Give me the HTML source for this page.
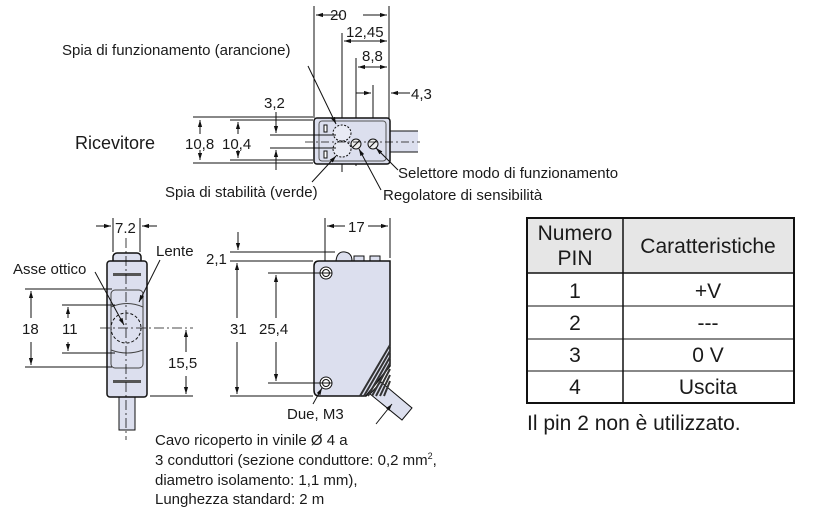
<!DOCTYPE html>
<html><head><meta charset="utf-8"><style>
body{margin:0;background:#fff}
svg{display:block}
text{font-family:"Liberation Sans",Arial,sans-serif;fill:#1a1a1a}
</style></head><body>
<svg width="825" height="524" viewBox="0 0 825 524" xmlns="http://www.w3.org/2000/svg">
<defs>
<marker id="a" viewBox="0 0 10 10" refX="10" refY="5" markerWidth="7" markerHeight="7" orient="auto-start-reverse"><path d="M0,2 L10,5 L0,8z" fill="#111"/></marker>
</defs>
<g stroke="#111" stroke-width="1" fill="none">
<!-- TOP VIEW -->
<line x1="314" y1="6" x2="314" y2="118"/><line x1="389" y1="6" x2="389" y2="118"/>
<line x1="316" y1="15" x2="341" y2="15" marker-start="url(#a)"/><line x1="363" y1="15" x2="387" y2="15" marker-end="url(#a)"/>
<line x1="342" y1="33" x2="342" y2="172"/>
<line x1="344" y1="41" x2="387" y2="41" marker-start="url(#a)" marker-end="url(#a)"/>
<line x1="356" y1="58" x2="356" y2="166"/>
<line x1="358" y1="67" x2="387" y2="67" marker-start="url(#a)" marker-end="url(#a)"/>
<line x1="373" y1="85" x2="373" y2="148"/>
<line x1="356" y1="93" x2="371" y2="93" marker-end="url(#a)"/>
<line x1="410" y1="93" x2="391" y2="93" marker-end="url(#a)"/>
<rect x="390" y="131" width="28" height="21" fill="#dcdfee" stroke="none"/>
<line x1="390" y1="131" x2="418" y2="131"/><line x1="390" y1="152" x2="418" y2="152"/>
<rect x="314" y="118" width="76" height="46" rx="3" fill="#dcdfee" stroke-width="1.5"/>
<rect x="319" y="121" width="67" height="40" rx="3" stroke="#555"/>
<rect x="324" y="125" width="3" height="7" fill="#fff"/><rect x="324" y="151" width="3" height="7" fill="#fff"/>
<ellipse cx="342" cy="133" rx="9" ry="8" fill="#e8eaf4" stroke-dasharray="2,1.5"/>
<ellipse cx="342" cy="149" rx="9" ry="8" fill="#e8eaf4" stroke-dasharray="2,1.5"/>
<circle cx="356" cy="144" r="5" fill="#eee"/><line x1="353" y1="147" x2="359" y2="141"/>
<circle cx="373" cy="144" r="5" fill="#eee"/><line x1="370" y1="147" x2="376" y2="141"/>
<line x1="305" y1="142" x2="420" y2="142" stroke-dasharray="8,3,2,3" stroke-width=".8"/>
<line x1="193" y1="117" x2="313" y2="117"/><line x1="193" y1="163" x2="313" y2="163"/>
<line x1="230" y1="120" x2="313" y2="120"/><line x1="230" y1="160" x2="313" y2="160"/>
<line x1="270" y1="135" x2="336" y2="135"/><line x1="270" y1="148" x2="336" y2="148"/>
<line x1="200" y1="120" x2="200" y2="134" marker-start="url(#a)"/><line x1="200" y1="150" x2="200" y2="160" marker-end="url(#a)"/>
<line x1="238" y1="122" x2="238" y2="134" marker-start="url(#a)"/><line x1="238" y1="150" x2="238" y2="158" marker-end="url(#a)"/>
<line x1="276" y1="112" x2="276" y2="133" marker-end="url(#a)"/><line x1="276" y1="170" x2="276" y2="150" marker-end="url(#a)"/>
<line x1="308" y1="66" x2="336" y2="124" marker-end="url(#a)"/>
<line x1="312" y1="182" x2="336" y2="156" marker-end="url(#a)"/>
<line x1="398" y1="170" x2="376" y2="148" marker-end="url(#a)"/>
<line x1="381" y1="190" x2="359" y2="149" marker-end="url(#a)"/>
<!-- SIDE VIEW -->
<line x1="113" y1="218" x2="113" y2="252"/><line x1="140" y1="218" x2="140" y2="252"/>
<line x1="96" y1="226" x2="111" y2="226" marker-end="url(#a)"/><line x1="157" y1="226" x2="142" y2="226" marker-end="url(#a)"/>
<rect x="119" y="397" width="16" height="33" fill="#dcdfee"/>
<rect x="113" y="253" width="28" height="14" rx="4" fill="#dcdfee" stroke-width="1.5"/>
<rect x="107" y="261" width="40" height="136" rx="3" fill="#dcdfee" stroke-width="1.5"/>
<rect x="111" y="290" width="32" height="78" rx="4" stroke="#444"/>
<path d="M111,307 Q127,300 143,307 M111,350 Q127,356 143,350" stroke="#444"/>
<circle cx="126" cy="328" r="15" stroke-dasharray="3,2"/>
<rect x="113" y="273" width="28" height="3" fill="#555" stroke="none"/><rect x="113" y="380" width="28" height="3" fill="#555" stroke="none"/>
<line x1="126" y1="238" x2="126" y2="440" stroke-dasharray="10,3,2,3" stroke-width=".8"/>
<line x1="100" y1="328" x2="193" y2="328" stroke-dasharray="10,3,2,3" stroke-width=".8"/>
<line x1="25" y1="289" x2="112" y2="289"/><line x1="25" y1="367" x2="112" y2="367"/>
<line x1="62" y1="305" x2="115" y2="305"/><line x1="62" y1="353" x2="115" y2="353"/>
<line x1="150" y1="396" x2="193" y2="396"/>
<line x1="31" y1="318" x2="31" y2="291" marker-end="url(#a)"/><line x1="31" y1="342" x2="31" y2="365" marker-end="url(#a)"/>
<line x1="68" y1="318" x2="68" y2="307" marker-end="url(#a)"/><line x1="68" y1="342" x2="68" y2="351" marker-end="url(#a)"/>
<line x1="186" y1="352" x2="186" y2="330" marker-end="url(#a)"/><line x1="186" y1="376" x2="186" y2="394" marker-end="url(#a)"/>
<line x1="95" y1="272" x2="124" y2="325" marker-end="url(#a)"/>
<line x1="160" y1="260" x2="139" y2="302" marker-end="url(#a)"/>
<!-- FRONT VIEW -->
<line x1="325" y1="218" x2="325" y2="270"/><line x1="390" y1="218" x2="390" y2="258"/>
<line x1="327" y1="226" x2="345" y2="226" marker-start="url(#a)"/><line x1="368" y1="226" x2="388" y2="226" marker-end="url(#a)"/>
<path d="M381,382 L412,408 L402,420 L370,394z" fill="#dcdfee"/>
<path d="M336,261 Q337,251 345,252 Q352,253 352,261" fill="#dcdfee"/>
<rect x="354" y="256" width="10" height="5" fill="#dcdfee"/><rect x="370" y="256" width="10" height="5" fill="#dcdfee"/>
<path d="M319,261 L390,261 L390,366 L366,396 L319,396 Q314,396 314,390 L314,266 Q314,261 319,261z" fill="#dcdfee" stroke-width="1.5"/>
<path d="M390,345 L360,396 M390,351 L364,396 M390,357 L368,396 M390,363 L372,396 M390,369 L376,396 M390,375 L380,396 M390,381 L384,396" stroke="#333" stroke-width="2"/>
<circle cx="326" cy="273" r="6" fill="#fff"/><circle cx="326" cy="273" r="3.5"/>
<circle cx="326" cy="383" r="6" fill="#fff"/><circle cx="326" cy="383" r="3.5"/>
<line x1="230" y1="252" x2="335" y2="252"/><line x1="230" y1="261" x2="313" y2="261"/><line x1="230" y1="396" x2="313" y2="396"/>
<line x1="268" y1="273" x2="332" y2="273"/><line x1="268" y1="383" x2="332" y2="383"/>
<line x1="238" y1="232" x2="238" y2="250" marker-end="url(#a)"/>
<line x1="237" y1="318" x2="237" y2="263" marker-end="url(#a)"/><line x1="237" y1="342" x2="237" y2="394" marker-end="url(#a)"/>
<line x1="276" y1="318" x2="276" y2="275" marker-end="url(#a)"/><line x1="276" y1="342" x2="276" y2="381" marker-end="url(#a)"/>
<line x1="313" y1="404" x2="322" y2="388" marker-end="url(#a)"/>
<line x1="376" y1="424" x2="392" y2="404" marker-end="url(#a)"/>
</g>
<g font-size="15">
<text x="330" y="20">20</text>
<text x="346" y="37">12,45</text>
<text x="362" y="61">8,8</text>
<text x="411" y="99">4,3</text>
<text x="62" y="55">Spia di funzionamento (arancione)</text>
<text x="264" y="108">3,2</text>
<text x="75" y="149" font-size="18">Ricevitore</text>
<text x="185" y="149">10,8</text>
<text x="222" y="149">10,4</text>
<text x="398" y="178">Selettore modo di funzionamento</text>
<text x="383" y="200">Regolatore di sensibilità</text>
<text x="165" y="197">Spia di stabilità (verde)</text>
<text x="115" y="233">7.2</text>
<text x="156" y="256">Lente</text>
<text x="13" y="274">Asse ottico</text>
<text x="22" y="334">18</text>
<text x="62" y="334">11</text>
<text x="168" y="368">15,5</text>
<text x="348" y="232">17</text>
<text x="206" y="264">2,1</text>
<text x="230" y="334">31</text>
<text x="259" y="334">25,4</text>
<text x="287" y="419">Due, M3</text>
<text x="155" y="445">Cavo ricoperto in vinile Ø 4 a</text>
<text x="155" y="465">3 conduttori (sezione conduttore: 0,2 mm<tspan font-size="9" dy="-6">2</tspan><tspan dy="6">,</tspan></text>
<text x="155" y="485">diametro isolamento: 1,1 mm),</text>
<text x="155" y="504">Lunghezza standard: 2 m</text>
</g>
<!-- TABLE -->
<g stroke="#111" fill="none">
<rect x="527" y="218" width="267" height="55" fill="#e6e6e6" stroke="none"/>
<rect x="527" y="218" width="267" height="185" stroke-width="2"/>
<line x1="527" y1="273" x2="794" y2="273" stroke-width="1.5"/>
<line x1="527" y1="306" x2="794" y2="306"/>
<line x1="527" y1="339" x2="794" y2="339"/>
<line x1="527" y1="371" x2="794" y2="371"/>
<line x1="623" y1="218" x2="623" y2="403" stroke-width="1.5"/>
</g>
<g font-size="21" text-anchor="middle">
<text x="575" y="240">Numero</text>
<text x="575" y="265">PIN</text>
<text x="708" y="253">Caratteristiche</text>
<text x="575" y="298">1</text><text x="708" y="298">+V</text>
<text x="575" y="330">2</text><text x="708" y="330">---</text>
<text x="575" y="362">3</text><text x="708" y="362">0 V</text>
<text x="575" y="394">4</text><text x="708" y="394">Uscita</text>
</g>
<text x="527" y="430" font-size="21">Il pin 2 non è utilizzato.</text>
</svg>
</body></html>
